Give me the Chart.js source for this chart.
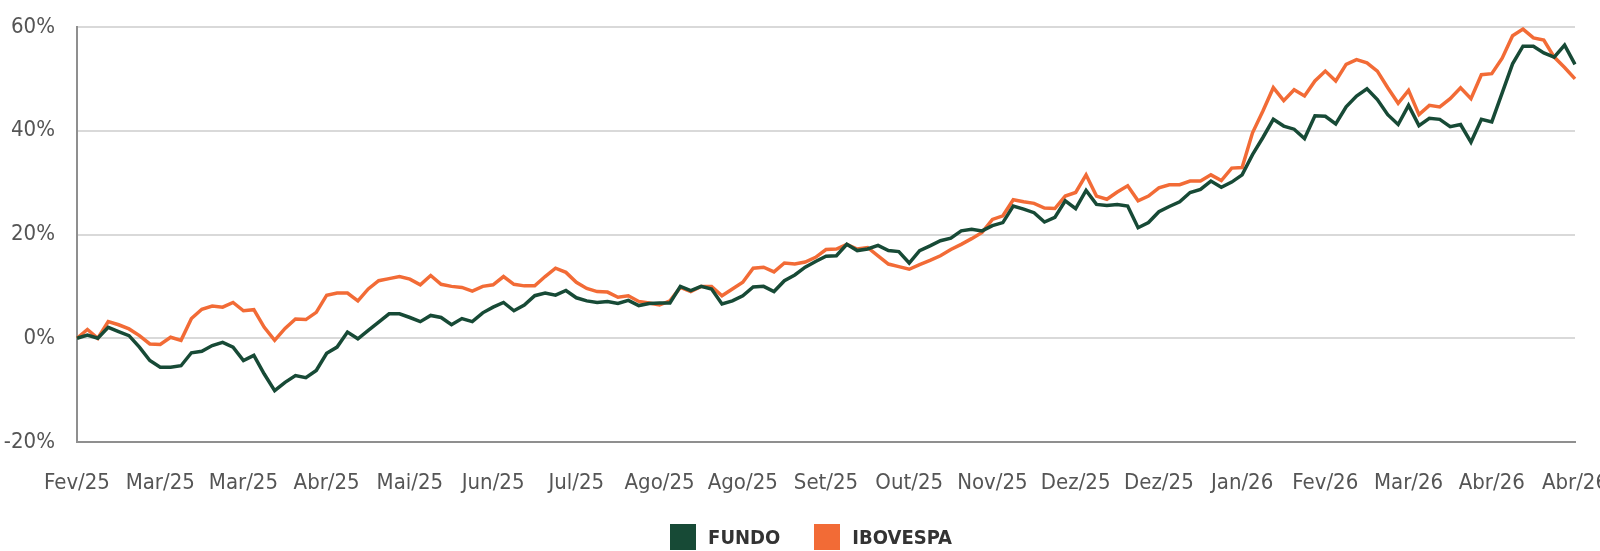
<!DOCTYPE html>
<html>
<head>
<meta charset="utf-8">
<script src="https://cdn.jsdelivr.net/npm/chart.js@4.4.1/dist/chart.umd.min.js"></script>
<style>
  html, body { margin: 0; padding: 0; background: #fff; }
  #wrap { position: relative; width: 1600px; height: 551px; }
  #grafico { position: absolute; left: 0; top: 0; }
  #legenda {
    position: absolute; left: 0; top: 523px; width: 1600px; height: 27px;
    display: flex; justify-content: center; align-items: center;
    font-family: 'Liberation Sans Narrow', 'DejaVu Sans Condensed', 'Roboto', sans-serif;
    font-weight: bold; font-size: 20px; color: #333; padding-left: 22px; box-sizing: border-box;
  }
  #legenda .item { display: flex; align-items: center; }
  #legenda .box { width: 26px; height: 26px; margin-right: 12px; }
</style>
</head>
<body>
<div id="wrap">
  <canvas id="grafico" width="1600" height="551"></canvas>
  <div id="legenda"></div>
</div>
<script>
// rotulos do eixo x (um a cada 8 pontos)
var tickLabels = ['Fev/25', 'Mar/25', 'Mar/25', 'Abr/25', 'Mai/25', 'Jun/25', 'Jul/25', 'Ago/25', 'Ago/25',
    'Set/25', 'Out/25', 'Nov/25', 'Dez/25', 'Dez/25', 'Jan/26', 'Fev/26', 'Mar/26', 'Abr/26', 'Abr/26'];
var pontosPorRotulo = 8;

var seriesNames = ['FUNDO', 'IBOVESPA'];
var seriesColors = ['#174a36', '#f26b36'];

// rentabilidade acumulada (%)
var fundo = [
    0, 0.6, 0, 2.1, 1.3, 0.5, -1.7, -4.3, -5.6, -5.6, -5.3, -2.8, -2.5, -1.4, -0.8, -1.7,
    -4.3, -3.3, -6.9, -10.1, -8.5, -7.2, -7.6, -6.2, -2.9, -1.7, 1.2, -0.1, 1.5, 3.1, 4.7, 4.7,
    4.0, 3.2, 4.4, 4.0, 2.6, 3.8, 3.2, 4.9, 6.0, 6.9, 5.3, 6.4, 8.2, 8.7, 8.3, 9.2,
    7.8, 7.2, 6.9, 7.1, 6.7, 7.3, 6.3, 6.7, 6.8, 6.8, 10.0, 9.2, 10.0, 9.5, 6.6, 7.2,
    8.2, 9.9, 10.0, 9.0, 11.1, 12.2, 13.7, 14.8, 15.8, 15.9, 18.1, 16.9, 17.2, 17.9, 16.9, 16.7,
    14.5, 16.9, 17.8, 18.8, 19.3, 20.7, 21.0, 20.7, 21.7, 22.3, 25.5, 24.9, 24.2, 22.4, 23.3, 26.5,
    25.0, 28.5, 25.8, 25.6, 25.8, 25.5, 21.3, 22.3, 24.4, 25.4, 26.3, 28.1, 28.7, 30.3, 29.1, 30.1,
    31.5, 35.4, 38.7, 42.2, 40.9, 40.3, 38.5, 42.9, 42.8, 41.3, 44.6, 46.7, 48.1, 46.0, 43.1, 41.2,
    44.9, 41.0, 42.4, 42.2, 40.8, 41.2, 37.8, 42.2, 41.7, 47.3, 52.9, 56.3, 56.3, 55.0, 54.2, 56.5,
    52.8
];
var ibovespa = [
    0, 1.7, 0, 3.2, 2.6, 1.8, 0.5, -1.1, -1.2, 0.2, -0.4, 3.8, 5.6, 6.2, 6.0, 6.9,
    5.3, 5.5, 2.1, -0.4, 1.9, 3.7, 3.6, 5.0, 8.3, 8.7, 8.7, 7.2, 9.5, 11.1, 11.5, 11.9,
    11.4, 10.3, 12.1, 10.4, 10.0, 9.8, 9.1, 10.0, 10.3, 11.9, 10.4, 10.1, 10.1, 11.9, 13.5, 12.7,
    10.8, 9.6, 9.0, 8.9, 7.9, 8.2, 7.1, 6.8, 6.4, 7.2, 9.8, 9.0, 10.0, 10.0, 8.2, 9.5,
    10.8, 13.5, 13.7, 12.8, 14.5, 14.3, 14.7, 15.6, 17.1, 17.2, 18.1, 17.2, 17.5, 15.9, 14.3, 13.8,
    13.3, 14.2, 15.0, 15.9, 17.1, 18.1, 19.2, 20.4, 22.9, 23.6, 26.7, 26.3, 26.0, 25.1, 25.0, 27.4,
    28.1, 31.5, 27.4, 26.8, 28.2, 29.4, 26.5, 27.4, 29.0, 29.6, 29.6, 30.3, 30.3, 31.5, 30.4, 32.8,
    32.9, 39.6, 43.8, 48.3, 45.8, 47.9, 46.7, 49.6, 51.5, 49.6, 52.8, 53.7, 53.1, 51.5, 48.3, 45.3,
    47.8, 43.1, 44.9, 44.6, 46.2, 48.3, 46.2, 50.8, 51.0, 54.0, 58.3, 59.6, 57.9, 57.5, 54.2, 52.2,
    50.0
];

var yMin = -20, yMax = 60, yStep = 20;

var fonte = "'Liberation Sans Narrow', 'DejaVu Sans Condensed', 'Roboto', sans-serif";

// um rotulo por ponto, so aparece a cada 'pontosPorRotulo'
var labels = [];
for (var i = 0; i < fundo.length; i++) {
    labels.push(i % pontosPorRotulo === 0 ? tickLabels[i / pontosPorRotulo] : '');
}

var chartInstance = new Chart(document.getElementById('grafico'), {
    type: 'line',
    data: {
        labels: labels,
        datasets: [{
            label: seriesNames[0],
            data: fundo,
            borderColor: seriesColors[0],
            backgroundColor: seriesColors[0],
            borderWidth: 3.5,
            pointRadius: 0,
            tension: 0
        }, {
            label: seriesNames[1],
            data: ibovespa,
            borderColor: seriesColors[1],
            backgroundColor: seriesColors[1],
            borderWidth: 3.5,
            pointRadius: 0,
            tension: 0
        }]
    },
    options: {
        responsive: false,
        animation: false,
        layout: { padding: { top: 27, right: 25, left: 0, bottom: 0 } },
        plugins: {
            legend: { display: false },
            tooltip: { enabled: false }
        },
        scales: {
            x: {
                grid: { display: false, drawTicks: false },
                border: { display: true, color: '#8f8f8f', width: 2 },
                ticks: {
                    autoSkip: false,
                    maxRotation: 0,
                    padding: 28,
                    color: '#555',
                    font: { family: fonte, size: 22 }
                },
                afterFit: function (scale) {
                    scale.height = 109;
                    scale.paddingLeft = 0;
                    scale.paddingRight = 0;
                }
            },
            y: {
                min: yMin,
                max: yMax,
                grid: { color: '#d9d9d9', lineWidth: 2, drawTicks: false },
                border: { display: true, color: '#8f8f8f', width: 2 },
                ticks: {
                    stepSize: yStep,
                    padding: 22,
                    color: '#555',
                    font: { family: fonte, size: 22 },
                    callback: function (v) { return v + '%'; }
                },
                afterFit: function (scale) {
                    scale.width = 77;
                    scale.paddingTop = 0;
                    scale.paddingBottom = 0;
                }
            }
        }
    }
});

// legenda em html
var leg = document.getElementById('legenda');
for (var k = 0; k < seriesNames.length; k++) {
    var item = document.createElement('div');
    item.className = 'item';
    if (k > 0) item.style.marginLeft = '34px';
    item.innerHTML = '<span class="box" style="background:' + seriesColors[k] + '"></span><span>' + seriesNames[k] + '</span>';
    leg.appendChild(item);
}
</script>
</body>
</html>
